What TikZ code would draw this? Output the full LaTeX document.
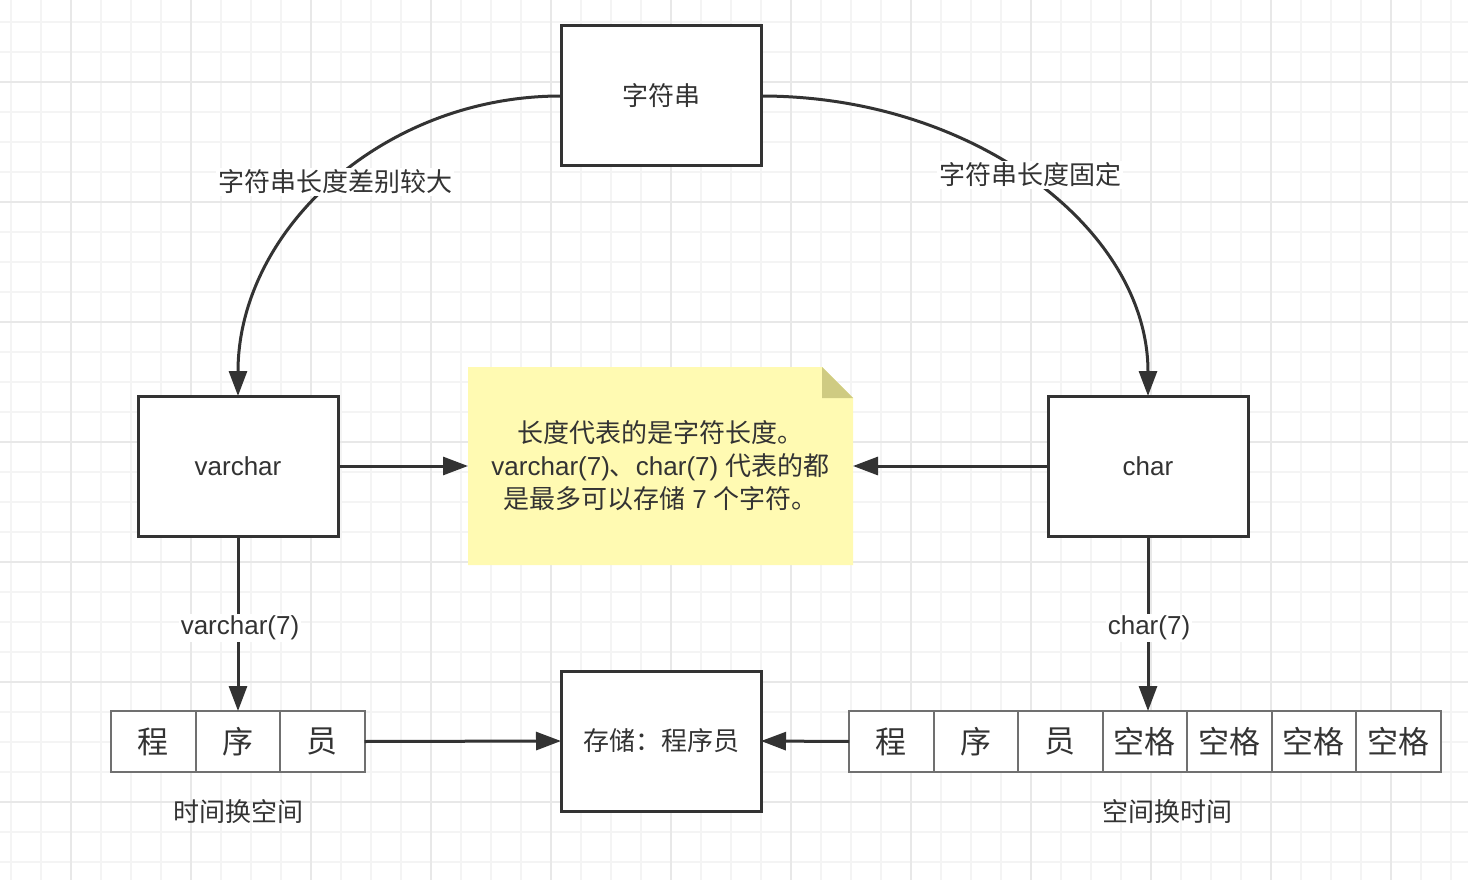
\documentclass[tikz,border=0pt]{standalone}
\usepackage{fontspec}
\setmainfont{Liberation Sans}
\newfontfamily\cjk{Noto Sans CJK SC}
\usetikzlibrary{arrows.meta}
\pgfdeclarelayer{background}
\pgfsetlayers{background,main}
\definecolor{ink}{HTML}{333333}
\definecolor{cellline}{HTML}{707070}
\definecolor{minorgrid}{HTML}{F4F4F4}
\definecolor{majorgrid}{HTML}{E8E8E8}
\definecolor{notefill}{HTML}{FFFAB2}
\definecolor{notefold}{HTML}{CFCB82}
\tikzset{
  boxnode/.style={draw=ink, line width=3pt, fill=white, minimum width=200pt, minimum height=140pt, inner sep=0pt, outer sep=0pt, text=ink, font=\fontsize{26}{30}\selectfont},
  cellnode/.style={draw=cellline, line width=2pt, fill=white, minimum width=84.5pt, minimum height=61pt, inner sep=0pt, outer sep=0pt, text=ink, font=\fontsize{31}{34}\selectfont\cjk},
  lbl/.style={text=ink, font=\fontsize{26}{30}\selectfont, inner sep=2pt},
  onedge/.style={lbl, fill=white},
  conn/.style={draw=ink, line width=3pt, -{Triangle[length=25pt,width=18pt]}},
}
\begin{document}
\begin{tikzpicture}[x=1pt,y=-1pt]
\useasboundingbox (0,0) rectangle (1468,880);
\begin{pgfonlayer}{background}
  \fill[white] (0,0) rectangle (1468,880);
  \foreach \x in {11,41,...,1468} \draw[minorgrid, line width=1.5pt] (\x,0) -- (\x,880);
  \foreach \y in {22,52,...,880} \draw[minorgrid, line width=1.5pt] (0,\y) -- (1468,\y);
  \foreach \x in {71,191,...,1468} \draw[majorgrid, line width=1.8pt] (\x,0) -- (\x,880);
  \foreach \y in {82,202,...,880} \draw[majorgrid, line width=1.8pt] (0,\y) -- (1468,\y);
\end{pgfonlayer}

% main boxes
\node[boxnode] (str) at (661,96) {\cjk 字符串};
\node[boxnode] (varchar) at (238,466) {varchar};
\node[boxnode] (char) at (1148,466) {char};
\node[boxnode] (store) at (661,741) {\cjk 存储：程序员};

% note
\node[minimum width=385pt, minimum height=198pt, inner sep=0pt, outer sep=0pt, text=ink, align=center,
      font=\fontsize{26}{33}\selectfont] (note) at (660.5,466)
  {{\cjk 长度代表的是字符长度。}\\varchar(7){\cjk 、}char(7) {\cjk 代表的都}\\{\cjk 是最多可以存储} 7 {\cjk 个字符。}};
\begin{pgfonlayer}{background}
  \fill[notefill] (note.south west) -- (note.north west) -- ([xshift=-31pt]note.north east)
     -- ([yshift=-31pt]note.north east) -- (note.south east) -- cycle;
  \fill[notefold] ([xshift=-31pt]note.north east) -- ([xshift=-31pt,yshift=-31pt]note.north east)
     -- ([yshift=-31pt]note.north east) -- cycle;
\end{pgfonlayer}

% left array
\node[cellnode, anchor=west] (l1) at (111,741.5) {程};
\node[cellnode, anchor=west] (l2) at (l1.east) {序};
\node[cellnode, anchor=west] (l3) at (l2.east) {员};

% right array
\node[cellnode, anchor=west] (r1) at (849,741.5) {程};
\node[cellnode, anchor=west] (r2) at (r1.east) {序};
\node[cellnode, anchor=west] (r3) at (r2.east) {员};
\node[cellnode, anchor=west] (r4) at (r3.east) {空格};
\node[cellnode, anchor=west] (r5) at (r4.east) {空格};
\node[cellnode, anchor=west] (r6) at (r5.east) {空格};
\node[cellnode, anchor=west] (r7) at (r6.east) {空格};

% curved connectors
\draw[conn] (str.west) .. controls +(-178,0) and +(0,-166) .. (varchar.north);
\draw[conn] (str.east) .. controls +(214,0) and +(0,-166) .. (char.north);
\node[onedge] (lab1) at (335,182) {\cjk 字符串长度差别较大};
\node[onedge] (lab2) at (1030,175) {\cjk 字符串长度固定};

% straight connectors
\draw[conn] (varchar.east) -- (note.west);
\draw[conn] (char.west) -- (note.east);
\coordinate (ltop) at (varchar.south |- l2.north);
\coordinate (rtop) at (char.south |- r4.north);
\draw[conn] (varchar.south) -- (ltop);
\draw[conn] (char.south) -- (rtop);
\node[onedge] (lab3) at (240,628) {varchar(7)};
\node[onedge] (lab4) at (1149,628) {char(7)};
\draw[conn] (l3.east) -- (store.west);
\draw[conn] (r1.west) -- (store.east);

% bottom captions
\node[lbl] (cap1) at (238,812) {\cjk 时间换空间};
\node[lbl] (cap2) at (1167,812) {\cjk 空间换时间};
\end{tikzpicture}
\end{document}
